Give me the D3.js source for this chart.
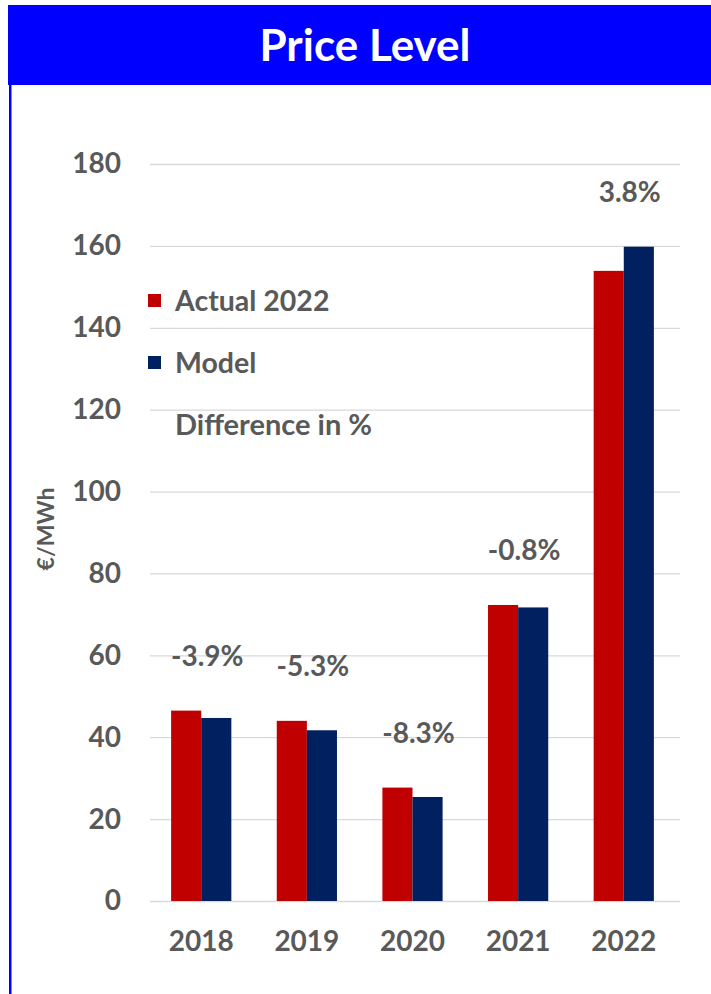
<!DOCTYPE html>
<html><head><meta charset="utf-8">
<script src="https://cdn.jsdelivr.net/npm/d3@7"></script>
<style>body{margin:0;background:#fff}svg{display:block}</style>
</head><body>
<script>
const years = ["2018","2019","2020","2021","2022"];
const actual = [46.5, 44.0, 27.7, 72.3, 153.9];
const model = [44.7, 41.7, 25.4, 71.7, 159.8];
const diffLabels = ["-3.9%","-5.3%","-8.3%","-0.8%","3.8%"];
const yTicks = [0,20,40,60,80,100,120,140,160,180];
const seriesNames = ["Actual 2022","Model"];
const colors = ["#c00000","#002060"];

const W=711,H=994;
const svg=d3.select("body").append("svg").attr("width",W).attr("height",H);
const font="Lato, 'Open Sans', sans-serif";
const gray="#595959";

// header
svg.append("rect").attr("x",8).attr("y",5).attr("width",W-8).attr("height",80).attr("fill","#0000ff");
svg.append("rect").attr("x",9).attr("y",5).attr("width",2.5).attr("height",H-5).attr("fill","#0000ff");
svg.append("text").attr("x",365).attr("y",61).attr("text-anchor","middle")
  .attr("font-family",font).attr("font-weight",700).attr("font-size",44).attr("fill","#fff").text("Price Level");

const x=d3.scaleBand().domain(years).range([150,675]).paddingInner(0.43).paddingOuter(0.2);
const y=d3.scaleLinear().domain([0,180]).range([901,164]);
const xs=d3.scaleBand().domain(seriesNames).range([0,x.bandwidth()]);

// grid
const yAxis=d3.axisLeft(y).tickValues(yTicks).tickSize(-(680-150)).tickPadding(29);
const ga=svg.append("g").attr("transform","translate(150,0)").call(yAxis);
ga.select(".domain").remove();
ga.selectAll(".tick line").attr("stroke","#d9d9d9").attr("stroke-width",1.3);
ga.selectAll(".tick text").attr("font-family",font).attr("font-weight",700).attr("font-size",28).attr("fill",gray);

// bars
const data=years.map((yr,i)=>({yr,vals:[actual[i],model[i]],lab:diffLabels[i]}));
const g=svg.append("g");
data.forEach(d=>{
  g.selectAll(null).data(d.vals).enter().append("rect")
    .attr("x",(v,j)=>x(d.yr)+xs(seriesNames[j]))
    .attr("width",xs.bandwidth())
    .attr("y",v=>y(v)).attr("height",v=>y(0)-y(v))
    .attr("fill",(v,j)=>colors[j]);
  g.append("text").attr("x",x(d.yr)+x.bandwidth()/2+6).attr("y",y(d3.max(d.vals))-45)
    .attr("text-anchor","middle").attr("font-family",font).attr("font-weight",700)
    .attr("font-size",28).attr("fill",gray).text(d.lab);
});

// x axis
const xa=d3.axisBottom(x).tickSize(0).tickPadding(30);
const gx=svg.append("g").attr("transform","translate(0,901)").call(xa);
gx.select(".domain").remove();
gx.selectAll(".tick text").attr("font-family",font).attr("font-weight",700).attr("font-size",28).attr("fill",gray);

// y title
svg.append("text").attr("transform","translate(54,529) rotate(-90)").attr("text-anchor","middle")
  .attr("font-family",font).attr("font-weight",700).attr("font-size",23).attr("fill",gray).text("€/MWh");

// legend
const leg=svg.append("g");
seriesNames.forEach((s,i)=>{
  const ly=301+i*62;
  leg.append("rect").attr("x",148).attr("y",ly-7).attr("width",13).attr("height",13).attr("fill",colors[i]);
  leg.append("text").attr("x",175).attr("y",ly+10).attr("font-family",font).attr("font-weight",700)
    .attr("font-size",28.5).attr("fill",gray).text(s);
});
leg.append("text").attr("x",175).attr("y",435).attr("font-family",font).attr("font-weight",700)
  .attr("font-size",29).attr("fill",gray).text("Difference in %");
</script>
</body></html>
